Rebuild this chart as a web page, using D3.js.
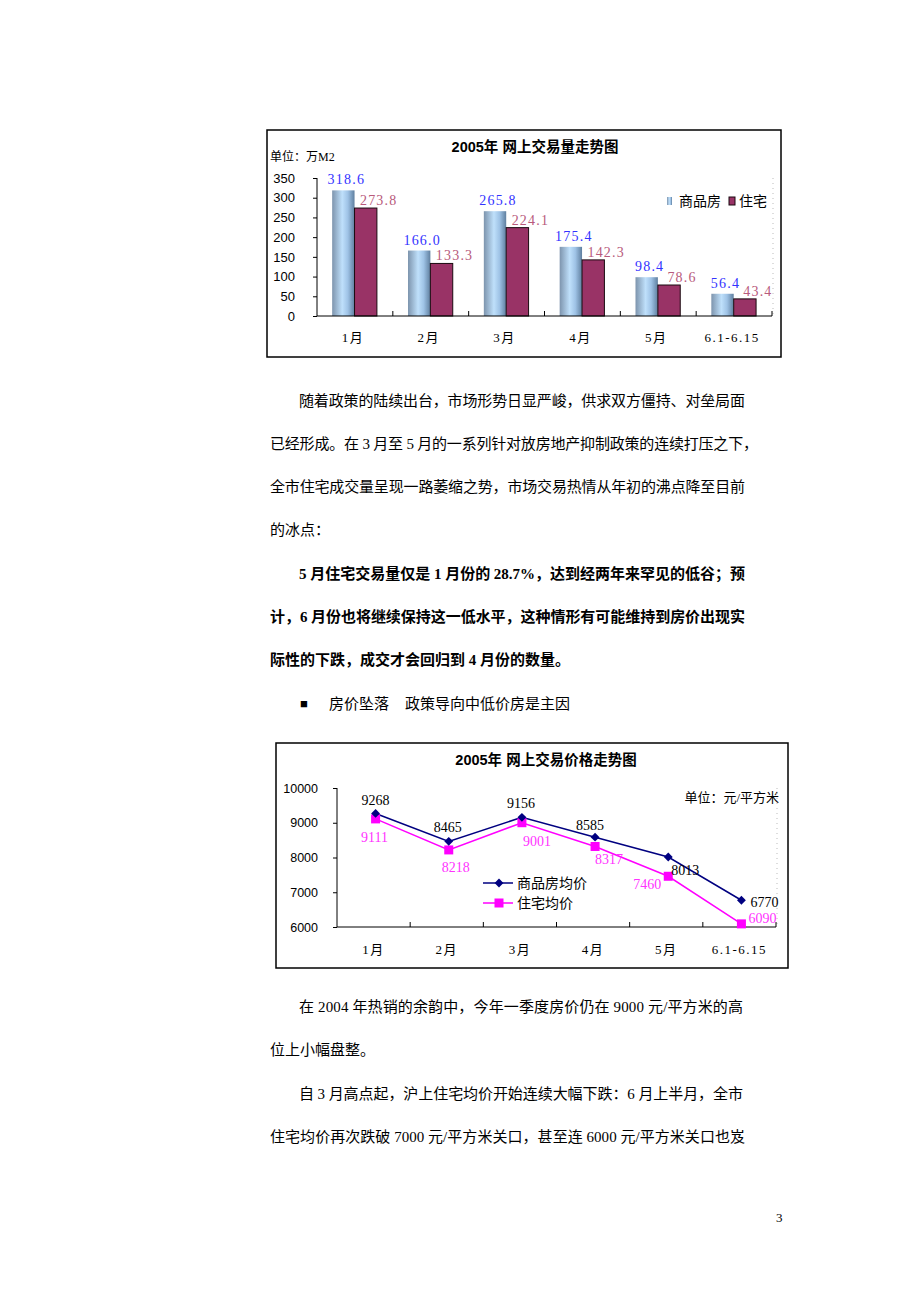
<!DOCTYPE html>
<html>
<head>
<meta charset="utf-8">
<script src="https://cdn.jsdelivr.net/npm/d3@7"></script>
<style>
  html,body{margin:0;padding:0;background:#fff;}
  svg{display:block;}
</style>
</head>
<body>
<div id="page"></div>
<script>
// ---- 数据 ----
const months = ["1月","2月","3月","4月","5月","6.1-6.15"];
const volSeries = ["商品房","住宅"];
const volCommercial = [318.6,166.0,265.8,175.4,98.4,56.4];
const volResidential = [273.8,133.3,224.1,142.3,78.6,43.4];
const volTicks = [0,50,100,150,200,250,300,350];

const priceSeries = ["商品房均价","住宅均价"];
const priceCommercial = [9268,8465,9156,8585,8013,6770];
const priceResidential = [9111,8218,9001,8317,7460,6090];
const priceTicks = [6000,7000,8000,9000,10000];

const SERIF = '"Liberation Serif","Noto Sans CJK SC",serif';
const SANS = '"Liberation Sans","Noto Sans CJK SC",sans-serif';
const CJK = '"Liberation Serif","Noto Sans CJK SC",serif';

const svg = d3.select('#page').append('svg').attr('width',920).attr('height',1302);
const defs = svg.append('defs');
const grad = defs.append('linearGradient').attr('id','cyl').attr('x1','0').attr('x2','1').attr('y1','0').attr('y2','0');
grad.append('stop').attr('offset','0%').attr('stop-color','#7d94ad');
grad.append('stop').attr('offset','45%').attr('stop-color','#bfe0fb');
grad.append('stop').attr('offset','70%').attr('stop-color','#9fc3e6');
grad.append('stop').attr('offset','100%').attr('stop-color','#5f7f9f');

// ---------- 图一：交易量柱状图 ----------
(function(){
  const g = svg.append('g');
  g.append('rect').attr('x',267).attr('y',130).attr('width',514).attr('height',227)
    .attr('fill','none').attr('stroke','#000').attr('stroke-width',1.5);
  g.append('text').attr('x',535).attr('y',152).attr('text-anchor','middle')
    .style('font-family',SANS).style('font-size','14.5px').style('font-weight','bold')
    .text('2005年  网上交易量走势图');
  g.append('text').attr('x',270).attr('y',161).style('font-family',CJK).style('font-size','12px')
    .text('单位：万M2');

  const x = d3.scaleBand().domain(months).range([317,772]);
  const x1 = d3.scaleBand().domain(volSeries).range([x.bandwidth()*0.2, x.bandwidth()*0.79]);
  const y = d3.scaleLinear().domain([0,350]).range([316,178]);

  // 右侧虚线
  g.append('line').attr('x1',773).attr('x2',773).attr('y1',178).attr('y2',316)
    .attr('stroke','#bbb').attr('stroke-dasharray','1,4');

  const rows = months.map((m,i)=>({m, v:[volCommercial[i],volResidential[i]]}));
  const grp = g.selectAll('g.grp').data(rows).enter().append('g').attr('class','grp')
    .attr('transform',d=>`translate(${x(d.m)},0)`);
  grp.append('rect').attr('x',x1('商品房')).attr('width',x1.bandwidth())
    .attr('y',d=>y(d.v[0])).attr('height',d=>y(0)-y(d.v[0])).attr('fill','url(#cyl)');
  grp.append('rect').attr('x',x1('住宅')).attr('width',x1.bandwidth())
    .attr('y',d=>y(d.v[1])).attr('height',d=>y(0)-y(d.v[1]))
    .attr('fill','#993366').attr('stroke','#1a0a10').attr('stroke-width',1);
  grp.append('text').attr('x',x1('商品房')+x1.bandwidth()/2+3).attr('y',d=>y(d.v[0])-6)
    .attr('text-anchor','middle').attr('fill','#3333ff')
    .style('font-family',SERIF).style('font-size','14px').style('letter-spacing','1.2px')
    .text(d=>d.v[0].toFixed(1));
  grp.append('text').attr('x',x1('住宅')+x1.bandwidth()/2+13).attr('y',d=>y(d.v[1])-3)
    .attr('text-anchor','middle').attr('fill','#b85a7c')
    .style('font-family',SERIF).style('font-size','14px').style('letter-spacing','1.2px')
    .text(d=>d.v[1].toFixed(1));

  // 轴
  const ya = g.append('g').attr('transform','translate(317,0)')
    .call(d3.axisLeft(y).tickValues(volTicks).tickSize(4).tickPadding(18).tickFormat(d3.format('d')));
  ya.selectAll('text').style('font-family',SANS).style('font-size','13px').attr('fill','#000');
  ya.selectAll('line,path').attr('stroke','#000');
  ya.select('.domain').attr('d','M0,178V316');

  const xa = g.append('g').attr('transform','translate(0,316)');
  xa.append('line').attr('x1',317).attr('x2',772).attr('stroke','#000');
  xa.selectAll('line.tk').data(d3.range(1,months.length+1)).enter().append('line').attr('class','tk')
    .attr('x1',i=>317+i*x.step()).attr('x2',i=>317+i*x.step()).attr('y1',0).attr('y2',-5).attr('stroke','#000');
  xa.selectAll('text').data(months).enter().append('text')
    .attr('x',d=>x(d)+x.bandwidth()/2-2).attr('y',26).attr('text-anchor','middle')
    .style('font-family',CJK).style('font-size','13px').style('letter-spacing','1.5px').text(d=>d);

  // 图例
  const lg = g.append('g').attr('transform','translate(667,201)');
  lg.append('rect').attr('x',0).attr('y',-4).attr('width',5).attr('height',8).attr('fill','url(#cyl)');
  lg.append('text').attr('x',12).attr('y',5).style('font-family',CJK).style('font-size','14px').text(volSeries[0]);
  lg.append('rect').attr('x',62).attr('y',-4).attr('width',6).attr('height',8).attr('fill','#993366').attr('stroke','#1a0a10');
  lg.append('text').attr('x',72).attr('y',5).style('font-family',CJK).style('font-size','14px').text(volSeries[1]);
})();

// ---------- 正文 ----------
const lines = [
  {t:'随着政策的陆续出台，市场形势日显严峻，供求双方僵持、对垒局面',x:299,y:406,w:446},
  {t:'已经形成。在 3 月至 5 月的一系列针对放房地产抑制政策的连续打压之下，',x:270,y:449,w:488},
  {t:'全市住宅成交量呈现一路萎缩之势，市场交易热情从年初的沸点降至目前',x:270,y:492,w:475},
  {t:'的冰点：',x:270,y:535},
  {t:'5 月住宅交易量仅是 1 月份的 28.7%，达到经两年来罕见的低谷；预',x:299,y:579,w:446,b:true},
  {t:'计，6 月份也将继续保持这一低水平，这种情形有可能维持到房价出现实',x:270,y:622,w:475,b:true},
  {t:'际性的下跌，成交才会回归到 4 月份的数量。',x:270,y:665,b:true},
  {t:'■',x:300,y:708,fs:13},
  {t:'房价坠落',x:329,y:709},
  {t:'政策导向中低价房是主因',x:405,y:709},
  {t:'在 2004 年热销的余韵中，今年一季度房价仍在 9000 元/平方米的高',x:299,y:1012,w:444},
  {t:'位上小幅盘整。',x:270,y:1055},
  {t:'自 3 月高点起，沪上住宅均价开始连续大幅下跌：6 月上半月，全市',x:299,y:1099,w:444},
  {t:'住宅均价再次跌破 7000 元/平方米关口，甚至连 6000 元/平方米关口也岌',x:270,y:1142,w:475},
  {t:'3',x:776,y:1222,fs:13}
];
const body = svg.append('g');
lines.forEach(l=>{
  const t = body.append('text').attr('x',l.x).attr('y',l.y)
    .style('font-family',CJK).style('font-size',(l.fs||15)+'px')
    .style('font-weight',l.b?'bold':'normal').attr('fill','#000').text(l.t);
  if(l.w) t.attr('textLength',l.w).attr('lengthAdjust','spacing');
});

// ---------- 图二：价格折线图 ----------
(function(){
  const g = svg.append('g');
  g.append('rect').attr('x',276).attr('y',743).attr('width',512).attr('height',225)
    .attr('fill','none').attr('stroke','#000').attr('stroke-width',1.5);
  g.append('text').attr('x',546).attr('y',765).attr('text-anchor','middle')
    .style('font-family',SANS).style('font-size','14.5px').style('font-weight','bold')
    .text('2005年  网上交易价格走势图');
  g.append('text').attr('x',779).attr('y',802).attr('text-anchor','end')
    .style('font-family',CJK).style('font-size','13px').text('单位：元/平方米');

  const x = d3.scaleBand().domain(months).range([337,776]);
  const y = d3.scaleLinear().domain([6000,10000]).range([927,788]);
  const cx = m => x(m)+x.bandwidth()/2+2;

  g.append('line').attr('x1',777).attr('x2',777).attr('y1',788).attr('y2',927)
    .attr('stroke','#bbb').attr('stroke-dasharray','1,4');

  const ya = g.append('g').attr('transform','translate(337,0)')
    .call(d3.axisLeft(y).tickValues(priceTicks).tickSize(4).tickPadding(15).tickFormat(d3.format('d')));
  ya.selectAll('text').style('font-family',SANS).style('font-size','12.5px').attr('fill','#000');
  ya.selectAll('line,path').attr('stroke','#000');
  ya.select('.domain').attr('d','M0,788V927');

  const xa = g.append('g').attr('transform','translate(0,927)');
  xa.append('line').attr('x1',337).attr('x2',776).attr('stroke','#000');
  xa.selectAll('line.tk').data(d3.range(1,months.length+1)).enter().append('line').attr('class','tk')
    .attr('x1',i=>337+i*x.step()).attr('x2',i=>337+i*x.step()).attr('y1',0).attr('y2',-5).attr('stroke','#000');
  xa.selectAll('text').data(months).enter().append('text')
    .attr('x',d=>x(d)+x.bandwidth()/2).attr('y',27).attr('text-anchor','middle')
    .style('font-family',CJK).style('font-size','13px').style('letter-spacing','1.5px').text(d=>d);

  const line = d3.line().x((d,i)=>cx(months[i])).y(d=>y(d));
  g.append('path').attr('d',line(priceResidential)).attr('fill','none').attr('stroke','#ff00ff').attr('stroke-width',1.5);
  g.append('path').attr('d',line(priceCommercial)).attr('fill','none').attr('stroke','#000080').attr('stroke-width',1.5);

  const diamond = d3.symbol().type(d3.symbolDiamond2).size(50);
  g.selectAll('rect.sq').data(priceResidential).enter().append('rect').attr('class','sq')
    .attr('x',(d,i)=>cx(months[i])-4.5).attr('y',d=>y(d)-4.5).attr('width',9).attr('height',9).attr('fill','#ff00ff');
  g.selectAll('path.dm').data(priceCommercial).enter().append('path').attr('class','dm')
    .attr('d',diamond).attr('transform',(d,i)=>`translate(${cx(months[i])},${y(d)})`).attr('fill','#000080');

  // 数据标签偏移（相对点位）
  const offC = [[0,-8],[-1,-9],[-1,-9],[-5,-7],[17,18],[23,7]];
  const offR = [[-1,23],[7,22],[15,23],[14,18],[-21,13],[21,-1]];
  g.selectAll('text.lc').data(priceCommercial).enter().append('text').attr('class','lc')
    .attr('x',(d,i)=>cx(months[i])+offC[i][0]).attr('y',(d,i)=>y(d)+offC[i][1]).attr('text-anchor','middle')
    .style('font-family',SERIF).style('font-size','14px').attr('fill','#000').text(d=>d);
  g.selectAll('text.lr').data(priceResidential).enter().append('text').attr('class','lr')
    .attr('x',(d,i)=>cx(months[i])+offR[i][0]).attr('y',(d,i)=>y(d)+offR[i][1]).attr('text-anchor','middle')
    .style('font-family',SERIF).style('font-size','14px').attr('fill','#ff33ff').text(d=>d);

  // 图例
  const lg = g.append('g').attr('transform','translate(483,883)');
  lg.append('line').attr('x1',0).attr('x2',30).attr('stroke','#000080').attr('stroke-width',1.5);
  lg.append('path').attr('d',diamond).attr('transform','translate(16,0)').attr('fill','#000080');
  lg.append('text').attr('x',34).attr('y',5).style('font-family',CJK).style('font-size','14px').text(priceSeries[0]);
  lg.append('line').attr('x1',0).attr('x2',30).attr('y1',20).attr('y2',20).attr('stroke','#ff00ff').attr('stroke-width',1.5);
  lg.append('rect').attr('x',11.5).attr('y',15.5).attr('width',9).attr('height',9).attr('fill','#ff00ff');
  lg.append('text').attr('x',34).attr('y',25).style('font-family',CJK).style('font-size','14px').text(priceSeries[1]);
})();
</script>
</body>
</html>
